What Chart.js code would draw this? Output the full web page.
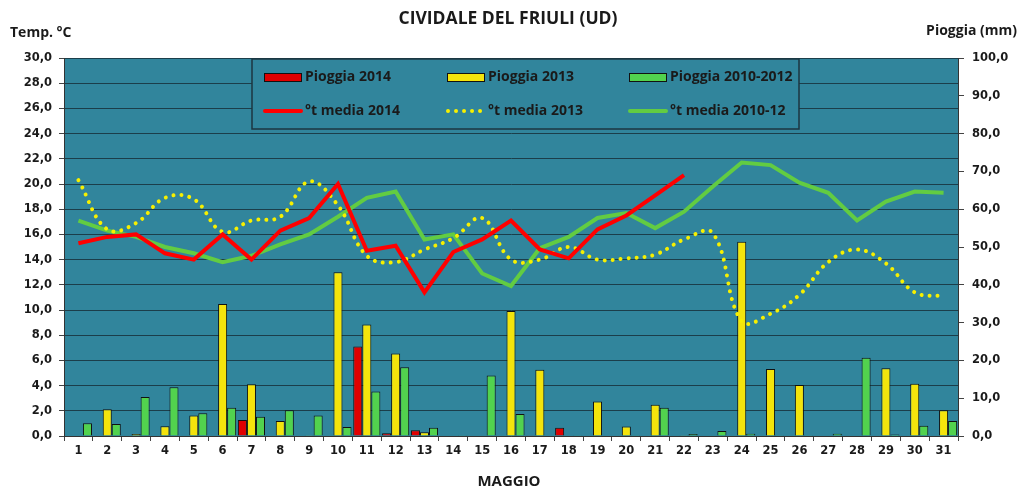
<!DOCTYPE html>
<html>
<head>
<meta charset="utf-8">
<script src="https://cdn.jsdelivr.net/npm/chart.js@4/dist/chart.umd.min.js"></script>
<style>
  html, body { margin: 0; padding: 0; background: #ffffff; }
  #wrap { width: 1020px; height: 490px; position: relative; }
</style>
</head>
<body>
<div id="wrap"><canvas id="c"></canvas></div>
<script>
const days = ['1','2','3','4','5','6','7','8','9','10','11','12','13','14','15','16','17','18','19','20','21','22','23','24','25','26','27','28','29','30','31'];

// Rain (mm), right axis
const rain2014 = [0, 0, 0.1, 0, 0, 0, 4.2, 0, 0, 0, 23.7, 0.7, 1.5, 0, 0, 0, 0.2, 2.2, 0, 0, 0, 0, null, null, null, null, null, null, null, null, null];
const rain2013 = [0, 7.1, 0.5, 2.6, 5.4, 34.9, 13.7, 4.0, 0.2, 43.3, 29.5, 21.8, 1.0, 0, 0, 33.1, 17.5, 0, 9.1, 2.5, 8.3, 0.2, 0, 51.4, 17.7, 13.5, 0, 0, 17.9, 13.8, 6.8];
const rain1012 = [3.4, 3.2, 10.3, 12.9, 6.0, 7.5, 5.1, 6.8, 5.4, 2.4, 11.8, 18.2, 2.2, 0.2, 16.0, 5.8, 0, 0.2, 0, 0.2, 7.5, 0.5, 1.3, 0.6, 0.2, 0.2, 0.6, 20.7, 0.4, 2.7, 4.0];

// Mean temperature (°C), left axis
const temp2014 = [15.3, 15.8, 16.0, 14.5, 14.0, 16.0, 14.0, 16.3, 17.3, 20.0, 14.7, 15.1, 11.4, 14.6, 15.6, 17.1, 14.8, 14.1, 16.4, 17.5, 19.1, 20.7, null, null, null, null, null, null, null, null, null];
const temp2013 = [20.3, 16.4, 16.9, 18.9, 18.8, 16.2, 17.1, 17.4, 20.2, 18.3, 14.3, 13.8, 14.8, 15.7, 17.3, 14.0, 14.0, 15.0, 14.0, 14.1, 14.4, 15.6, 16.1, 9.1, 9.7, 11.2, 13.8, 14.8, 13.7, 11.4, 11.1];
const temp1012 = [17.1, 16.3, 15.8, 15.0, 14.5, 13.8, 14.3, 15.2, 16.0, 17.4, 18.9, 19.4, 15.6, 16.0, 12.9, 11.9, 14.9, 15.8, 17.3, 17.7, 16.5, 17.8, 19.8, 21.7, 21.5, 20.1, 19.3, 17.1, 18.6, 19.4, 19.3];

const TEAL = '#31859c';
const GRID = '#1b3e4a';
const TXT = '#1a1a1a';
const tickFont = { family: 'DejaVu Sans', size: 11.5, weight: 'bold' };

const bgPlugin = {
  id: 'bg',
  beforeDraw(chart) {
    const { ctx, chartArea: a } = chart;
    ctx.save();
    ctx.fillStyle = TEAL;
    ctx.fillRect(a.left, a.top, a.right - a.left, a.bottom - a.top);
    ctx.restore();
  }
};

const legendPlugin = {
  id: 'customLegend',
  afterDatasetsDraw(chart) {
    const { ctx } = chart;
    const ds = chart.data.datasets;
    ctx.save();
    // box
    ctx.fillStyle = TEAL;
    ctx.fillRect(252, 59, 547, 70);
    ctx.strokeStyle = '#1d3640';
    ctx.lineWidth = 1.5;
    ctx.strokeRect(252, 59, 547, 70);
    ctx.font = 'bold 14px "Open Sans"';
    ctx.textBaseline = 'middle';
    ctx.textAlign = 'left';
    const cols = [264, 447, 629];
    // bar row
    [0, 1, 2].forEach((i, k) => {
      const x = cols[k];
      ctx.fillStyle = ds[i].backgroundColor;
      ctx.fillRect(x, 73, 37, 8);
      ctx.strokeStyle = '#111';
      ctx.lineWidth = 1;
      ctx.strokeRect(x + 0.5, 73.5, 37, 8);
      ctx.fillStyle = TXT;
      ctx.fillText(ds[i].label, x + 41, 77);
    });
    // line row
    [3, 4, 5].forEach((i, k) => {
      const x = cols[k];
      ctx.strokeStyle = ds[i].borderColor;
      ctx.lineWidth = ds[i].borderWidth;
      ctx.lineCap = 'round';
      ctx.setLineDash(ds[i].borderDash || []);
      ctx.beginPath();
      ctx.moveTo(x + 1, 111);
      ctx.lineTo(x + 37, 111);
      ctx.stroke();
      ctx.setLineDash([]);
      ctx.fillStyle = TXT;
      ctx.fillText(ds[i].label, x + 41, 111);
    });
    ctx.restore();
  }
};

const textPlugin = {
  id: 'texts',
  afterDraw(chart) {
    const { ctx } = chart;
    ctx.save();
    ctx.fillStyle = TXT;
    ctx.textBaseline = 'middle';
    ctx.textAlign = 'center';
    ctx.font = 'bold 17.5px "Open Sans"';
    ctx.fillText('CIVIDALE DEL FRIULI (UD)', 508, 19);
    ctx.font = 'bold 14px "Open Sans"';
    ctx.textAlign = 'left';
    ctx.fillText('Temp. °C', 10, 33);
    ctx.textAlign = 'right';
    ctx.fillText('Pioggia (mm)', 1017, 31);
    ctx.textAlign = 'center';
    ctx.font = 'bold 15px "Open Sans"';
    ctx.fillText('MAGGIO', 509, 482);
    ctx.restore();
  }
};

new Chart(document.getElementById('c'), {
  data: {
    labels: days,
    datasets: [
      { type: 'bar', label: 'Pioggia 2014', data: rain2014, yAxisID: 'y2', backgroundColor: '#e00000', borderColor: '#111', borderWidth: 1, borderSkipped: 'start', order: 2 },
      { type: 'bar', label: 'Pioggia 2013', data: rain2013, yAxisID: 'y2', backgroundColor: '#f4e40c', borderColor: '#111', borderWidth: 1, borderSkipped: 'start', order: 2 },
      { type: 'bar', label: 'Pioggia 2010-2012', data: rain1012, yAxisID: 'y2', backgroundColor: '#52d24e', borderColor: '#111', borderWidth: 1, borderSkipped: 'start', order: 2 },
      { type: 'line', label: '°t media 2014', data: temp2014, yAxisID: 'y', borderColor: '#ff0000', borderWidth: 4, pointRadius: 0, tension: 0, fill: false, order: 0 },
      { type: 'line', label: '°t media 2013', data: temp2013, yAxisID: 'y', borderColor: '#f7f000', borderWidth: 4, borderDash: [0.01, 8], borderCapStyle: 'round', pointRadius: 0, tension: 0.4, fill: false, order: 0 },
      { type: 'line', label: '°t media 2010-12', data: temp1012, yAxisID: 'y', borderColor: '#62cc42', borderWidth: 4, pointRadius: 0, tension: 0, fill: false, order: 1 }
    ]
  },
  options: {
    responsive: true,
    maintainAspectRatio: false,
    animation: false,
    layout: { padding: { top: 58, left: 0, right: 0, bottom: 0 } },
    datasets: { bar: { categoryPercentage: 0.94, barPercentage: 1.0 } },
    plugins: { legend: { display: false }, title: { display: false }, tooltip: { enabled: false } },
    scales: {
      x: {
        type: 'category',
        offset: true,
        grid: { display: true, drawOnChartArea: false, drawTicks: true, tickLength: 5, color: '#444', offset: true },
        border: { display: true, color: '#333', width: 1 },
        ticks: { color: TXT, font: tickFont, padding: 3, maxRotation: 0, autoSkip: false },
        afterFit(s) { s.height = 54; }
      },
      y: {
        position: 'left',
        min: 0, max: 30,
        ticks: { stepSize: 2, color: TXT, font: tickFont, padding: 7, callback: v => v.toFixed(1).replace('.', ',') },
        grid: { color: GRID, lineWidth: 1, tickLength: 5, tickColor: '#444' },
        border: { display: true, color: '#333', width: 1 },
        afterFit(s) { s.width = 64; }
      },
      y2: {
        position: 'right',
        min: 0, max: 100,
        ticks: { stepSize: 10, color: TXT, font: tickFont, padding: 8, callback: v => v.toFixed(1).replace('.', ',') },
        grid: { drawOnChartArea: false, tickLength: 6, color: '#444' },
        border: { display: true, color: '#333', width: 1 },
        afterFit(s) { s.width = 62; }
      }
    }
  },
  plugins: [bgPlugin, legendPlugin, textPlugin]
});
</script>
</body>
</html>
